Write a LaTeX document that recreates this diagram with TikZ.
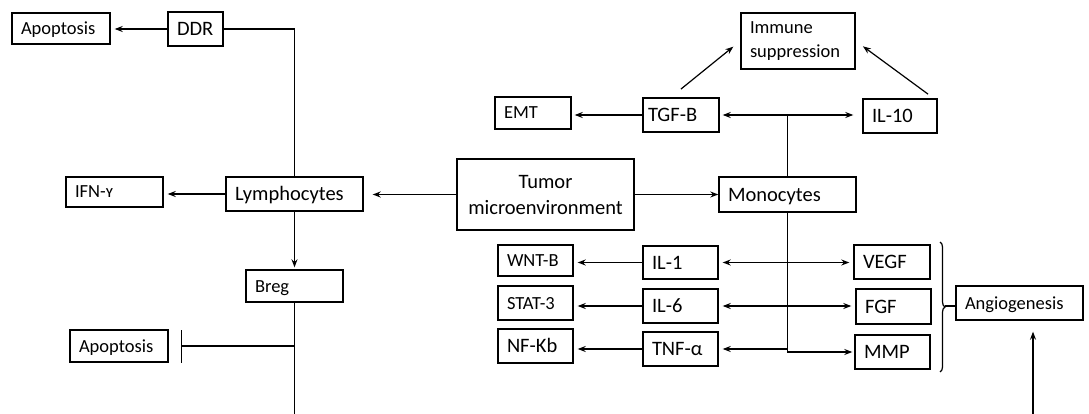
\documentclass[tikz,border=0pt]{standalone}
\usepackage{fontspec}
\setmainfont{Carlito}
\usetikzlibrary{arrows.meta, positioning, calc, decorations.pathreplacing}

\newcommand{\smallfs}{\fontsize{18.5}{24}\selectfont}
\newcommand{\largefs}{\fontsize{20.5}{26}\selectfont}

\begin{document}
\begin{tikzpicture}[x=1pt, y=-1pt,
	base/.style={draw, line width=1.4pt, inner xsep=9pt, inner ysep=0pt, align=left},
	box/.style={base, font=\largefs, text height=13pt, text depth=0pt},
	sbox/.style={base, font=\smallfs, text height=12pt, text depth=0pt},
	link/.style={line width=1.2pt},
	arr/.style={link, -{Stealth[length=8pt, width=6pt]}, shorten >=4pt},
	darr/.style={link, {Stealth[length=8pt, width=6pt]}-{Stealth[length=8pt, width=6pt]}, shorten >=4pt, shorten <=4pt}]
	\useasboundingbox (0,0) rectangle (1089,414);
	\coordinate (bottom) at (0,414);
	% left side
	\node[sbox, text width=80pt, minimum height=31pt] (apo1) at (61,28.5) {Apoptosis};
	\node[box, text width=37pt, minimum height=34pt] (ddr) at (195.5,29) {DDR};
	\node[sbox, text width=79pt, minimum height=30pt] (ifn) at (114.5,192) {IFN-ʏ};
	\node[box, text width=119pt, minimum height=34pt] (lym) at (294.5,194) {Lymphocytes};
	\node[sbox, text width=79pt, minimum height=32pt] (breg) at (294.5,286) {Breg};
	\node[sbox, text width=80pt, minimum height=32pt] (apo2) at (119,346) {Apoptosis};
	% centre
	\node[base, font=\largefs, text width=159pt, minimum height=71pt, align=center] (tumor) at (545.5,194.5) {Tumor\\microenvironment};
	\node[box, text width=119pt, minimum height=35pt] (mono) at (787.5,194.5) {Monocytes};
	% upper right
	\node[base, font=\smallfs, text width=96pt, minimum height=56pt] (imm) at (798,41) {Immune\\suppression};
	\node[sbox, text width=58pt, minimum height=32pt] (emt) at (533,113) {EMT};
	\node[box, inner xsep=5pt, text width=66pt, minimum height=34pt] (tgf) at (681,115) {TGF-B};
	\node[box, text width=56pt, minimum height=34pt] (il10) at (900,116) {IL-10};
	% lower right
	\node[sbox, text width=57pt, minimum height=31pt] (wnt) at (535.5,260.5) {WNT-B};
	\node[sbox, text width=57pt, minimum height=34pt] (stat) at (535.5,303) {STAT-3};
	\node[box, text width=57pt, minimum height=34pt] (nfkb) at (535.5,346) {NF-Kb};
	\node[box, text width=57pt, minimum height=33pt] (il1) at (680.5,262.5) {IL-1};
	\node[box, text width=57pt, minimum height=34pt] (il6) at (680.5,306) {IL-6};
	\node[box, text width=57pt, minimum height=34pt] (tnf) at (680.5,349) {TNF-α};
	\node[box, text width=58pt, minimum height=34pt] (vegf) at (892,262) {VEGF};
	\node[box, text width=57pt, minimum height=35pt] (fgf) at (893.5,306.5) {FGF};
	\node[box, text width=57pt, minimum height=34pt] (mmp) at (892.5,352) {MMP};
	\node[sbox, text width=109pt, minimum height=34pt] (angio) at (1019.5,303) {Angiogenesis};
	% lymphocyte branch
	\draw[arr] (ddr.west) -- (ddr.west -| apo1.east);
	\draw[link] (ddr.east) -| (lym.north);
	\draw[arr] (lym.west) -- (lym.west -| ifn.east);
	\draw[arr, shorten >=9pt] (tumor.west) -- (tumor.west -| lym.east);
	\draw[arr, shorten >=2pt] (lym.south) -- (breg.north);
	\draw[link] (breg.south) -- (breg.south |- bottom);
	\draw[link, -{Bar[width=33pt]}, shorten >=12pt] (breg.south |- apo2.east) -- (apo2.east);
	% monocyte branch
	\draw[arr, shorten >=0pt] (tumor.east) -- (tumor.east -| mono.west);
	\draw[link] (mono.north) -- (mono.north |- tgf.east);
	\draw[darr, shorten <=3pt, shorten >=9pt] (tgf.east) -- (tgf.east -| il10.west);
	\draw[arr, shorten >=3pt] (tgf.west) -- (tgf.west -| emt.east);
	\draw[arr, shorten <=13pt, shorten >=9pt] (tgf.120) -- (imm.west);
	\draw[arr, shorten <=7pt, shorten >=9pt] ([xshift=-4pt]il10.north east) -- (imm.east);
	\draw[arr, shorten >=2pt] (mono.south) |- (mmp.west);
	\draw[arr] (mono.south |- tnf.east) -- (tnf.east);
	\draw[darr] (il1.east) -- (il1.east -| vegf.west);
	\draw[darr] (il6.east) -- (il6.east -| fgf.west);
	\foreach \from/\to in {il1/wnt,il6/stat,tnf/nfkb}
		\draw[arr] (\from.west) -- (\from.west -| \to.east);
	% angiogenesis
	\draw[link, decorate, decoration={brace, amplitude=5pt}] (940,242) -- (940,372);
	\coordinate (btip) at (945,306);
	\draw[link] (btip) -- (btip -| angio.west);
	\coordinate (abot) at (1033,414);
	\draw[arr, shorten >=11pt] (abot) -- (abot |- angio.south);
\end{tikzpicture}
\end{document}
